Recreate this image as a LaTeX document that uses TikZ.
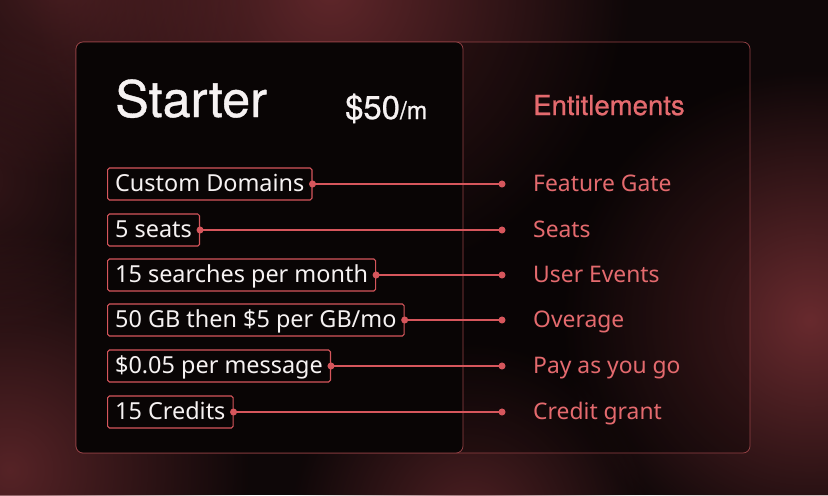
\documentclass[tikz,border=0pt]{standalone}
\usepackage{fontspec}
\setmainfont{Noto Sans}
\newfontfamily\headfont[FakeBold=0.8]{TeX Gyre Heros}
\usetikzlibrary{positioning,fadings}
\definecolor{bgdark}{RGB}{14,7,8}
\definecolor{glow}{RGB}{104,42,46}
\definecolor{cardblack}{RGB}{9,5,5}
\definecolor{edge}{RGB}{150,66,70}
\definecolor{pinkline}{RGB}{214,86,92}
\definecolor{pinktext}{RGB}{228,106,110}
\definecolor{offwhite}{RGB}{246,242,242}
\tikzfading[name=glowfade, inner color=transparent!0, outer color=transparent!100]

\begin{document}
\begin{tikzpicture}[x=0.03cm,y=-0.03cm,every node/.style={inner sep=0pt},
    itembox/.style={draw=pinkline,line width=0.9pt,rounded corners=1.5pt,anchor=west,
        font=\fontsize{20pt}{22pt}\selectfont,text=offwhite,
        text height=15.5pt,text depth=2pt,inner xsep=6.5pt,inner ysep=4.9pt},
    entlabel/.style={anchor=west,text=pinktext,font=\fontsize{19.5pt}{22pt}\selectfont,
        text height=15.5pt,text depth=2pt},
    link/.style={draw=pinkline,line width=1pt},
    dot/.style={fill=pinkline}]

    \useasboundingbox (0,0) rectangle (828,495);
    \clip (0,0) rectangle (828,495);

    % background and glows
    \fill[bgdark] (0,0) rectangle (828,495);
    \fill[glow,path fading=glowfade,opacity=0.9] (330,-10) circle (300);
    \fill[glow,path fading=glowfade,opacity=0.6] (60,-20) circle (200);
    \fill[glow,path fading=glowfade,opacity=0.8] (10,470) circle (240);
    \fill[glow,path fading=glowfade,opacity=1] (810,320) circle (250);
    \fill[glow,path fading=glowfade,opacity=0.7] (470,520) circle (180);
    \fill[glow,path fading=glowfade,opacity=0.4] (-20,180) circle (160);

    % panels
    \fill[black,opacity=0.35,rounded corners=6pt] (76,42) rectangle (750,453);
    \draw[edge,line width=0.6pt,rounded corners=6pt] (76,42) rectangle (750,453);
    \draw[fill=cardblack,draw=edge,line width=0.6pt,rounded corners=6pt] (76,42) rectangle (463,453);

    % headings
    \node[anchor=base west,text=offwhite,font=\headfont\fontsize{43pt}{46pt}\selectfont] (plan) at (115,117) {Starter};
    \node[anchor=base west,text=offwhite,font=\headfont\fontsize{28pt}{30pt}\selectfont] (price) at (345,119)
        {\$50{\fontsize{21pt}{22pt}\selectfont/m}};
    \node[anchor=base west,text=pinktext,font=\headfont\fontsize{23.5pt}{28pt}\selectfont] (enthead) at (533,115) {Entitlements};

    % features and their entitlements
    \foreach \y/\item/\ent [count=\i] in {184/Custom Domains/Feature Gate,
            230/5 seats/Seats,
            275/15 searches per month/User Events,
            320/{50 GB then \$5 per GB/mo}/Overage,
            366/\$0.05 per message/Pay as you go,
            412/15 Credits/Credit grant} {
        \node[itembox] (item\i) at (107,\y) {\item};
        \coordinate (dot\i) at (502,\y);
        \node[entlabel] (ent\i) at (533,\y) {\ent};
        \draw[link] (item\i.east) -- (dot\i);
        \fill[dot] (item\i.east) circle[radius=3pt];
        \fill[dot] (dot\i) circle[radius=3pt];
    }
\end{tikzpicture}
\end{document}
